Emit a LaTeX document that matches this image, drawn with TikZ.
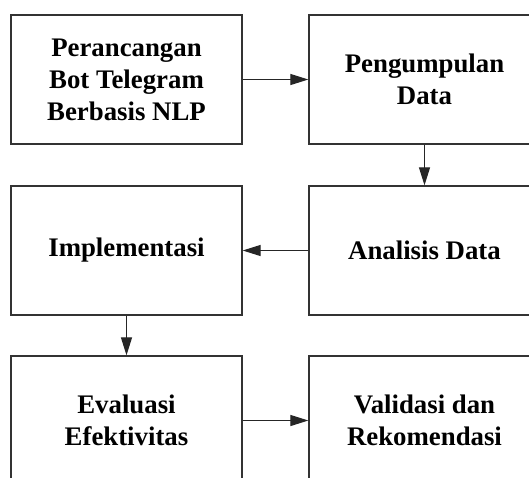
\documentclass[tikz,border=0pt]{standalone}
\usepackage{fontspec}
\setmainfont{Liberation Serif}
\usetikzlibrary{arrows.meta}

\begin{document}
\begin{tikzpicture}[x=1pt,y=-1pt,
    stage/.style={draw=black!80, line width=1.3pt, minimum width=231pt, minimum height=129pt,
      inner sep=0pt, align=center, font=\bfseries\fontsize{26.8}{32}\selectfont},
    flow/.style={-{Triangle[length=18pt,width=11pt]}, line width=1.2pt, draw=black!85}]
            \useasboundingbox (0,0) rectangle (529,477);
            \clip (0,0) rectangle (529,477);

            % Tahapan:
            \node[stage] (rancang) at (126.5,79.5) {Perancangan\\Bot Telegram\\Berbasis NLP};
            \node[stage] (kumpul) at (424.5,79.5) {Pengumpulan\\Data};
            \node[stage] (analisis) at (424.5,250.5) {Analisis Data};
            \node[stage] (implementasi) at (126.5,250.5) {Implementasi};
            \node[stage] (evaluasi) at (126.5,420.5) {Evaluasi\\Efektivitas};
            \node[stage] (validasi) at (424.5,420.5) {Validasi dan\\Rekomendasi};

            % Alur:
            \draw[flow] (rancang) -- (kumpul);
            \draw[flow] (kumpul) -- (analisis);
            \draw[flow] (analisis) -- (implementasi);
            \draw[flow] (implementasi) -- (evaluasi);
            \draw[flow] (evaluasi) -- (validasi);
      \end{tikzpicture}
\end{document}
